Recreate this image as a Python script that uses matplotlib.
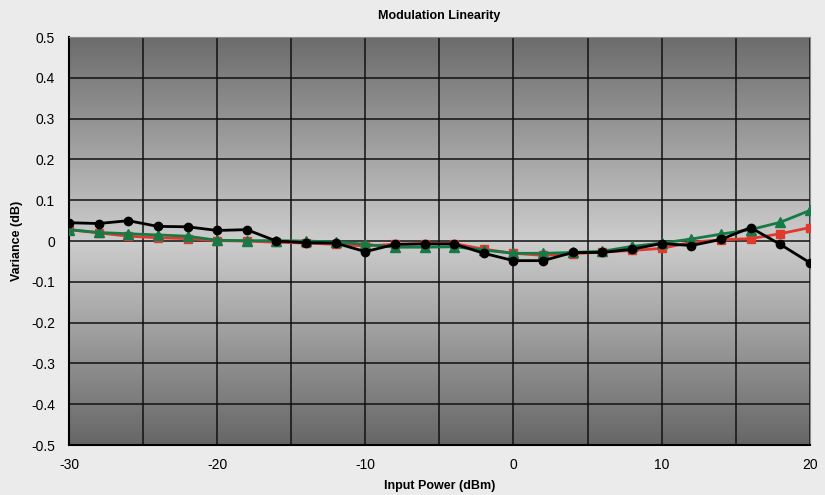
import matplotlib.pyplot as plt
import numpy as np
from matplotlib.colors import LinearSegmentedColormap

plt.rcParams["font.family"] = ["Liberation Sans", "DejaVu Sans"]
plt.rcParams["axes.unicode_minus"] = False

input_power = [-30, -28, -26, -24, -22, -20, -18, -16, -14, -12, -10, -8, -6,
               -4, -2, 0, 2, 4, 6, 8, 10, 12, 14, 16, 18, 20]

var_black = [0.045, 0.043, 0.050, 0.036, 0.035, 0.026, 0.028, 0.000, -0.004, -0.005,
             -0.026, -0.008, -0.007, -0.007, -0.030, -0.048, -0.048, -0.028, -0.028,
             -0.020, -0.006, -0.011, 0.004, 0.033, -0.008, -0.053]
var_red = [0.028, 0.020, 0.012, 0.008, 0.006, 0.001, 0.000, -0.003, -0.005, -0.008,
           -0.012, -0.008, -0.006, -0.006, -0.020, -0.030, -0.035, -0.031, -0.027,
           -0.023, -0.018, -0.003, 0.003, 0.006, 0.018, 0.033]
var_green = [0.028, 0.021, 0.018, 0.015, 0.012, 0.002, 0.001, 0.001, 0.000, -0.002,
             -0.008, -0.015, -0.015, -0.014, -0.022, -0.030, -0.030, -0.028, -0.025,
             -0.013, -0.005, 0.005, 0.017, 0.028, 0.046, 0.075]

fig = plt.figure(figsize=(8.25, 4.95), dpi=100, facecolor="#ebebeb")
ax = fig.add_axes([0.0836, 0.101, 0.898, 0.824])

# vertical grey gradient behind the plot: dark at top/bottom, light near zero
cmap = LinearSegmentedColormap.from_list(
    "bg", [(0, "#666666"), (0.5, "#cdcdcd"), (1, "#6c6c6c")])
grad = np.linspace(0, 1, 256).reshape(-1, 1)
ax.imshow(grad, cmap=cmap, aspect="auto", extent=[-30, 20, -0.5, 0.5],
          origin="lower", zorder=0)

ax.set_xlim(-30, 20)
ax.set_ylim(-0.5, 0.5)

ax.set_xticks(np.arange(-30, 21, 10))
ax.set_xticks(np.arange(-30, 21, 5), minor=True)
ax.set_yticks(np.round(np.arange(-0.5, 0.51, 0.1), 1))
ax.set_yticklabels(["-0.5", "-0.4", "-0.3", "-0.2", "-0.1", "0",
                    "0.1", "0.2", "0.3", "0.4", "0.5"])
ax.grid(True, which="both", color="#111111", linewidth=1.1, zorder=1)
ax.tick_params(axis="both", which="both", length=0, labelsize=10, pad=9)
ax.tick_params(axis="y", pad=10)

ax.plot(input_power, var_red, color="#e03a2e", marker="s", markersize=5.5,
        linewidth=2, zorder=3)
ax.plot(input_power, var_green, color="#157a45", marker="^", markersize=6.5,
        linewidth=2, zorder=4)
ax.plot(input_power, var_black, color="black", marker="o", markersize=6,
        linewidth=2, zorder=5)

for side in ["top", "right"]:
    ax.spines[side].set_color("#8a8a8a")
for side in ["left", "bottom"]:
    ax.spines[side].set_color("black")
    ax.spines[side].set_linewidth(1.5)

ax.set_title("Modulation Linearity", fontsize=9, fontweight="bold", pad=13)
ax.set_xlabel("Input Power (dBm)", fontsize=9, fontweight="bold", labelpad=6)
ax.set_ylabel("Variance (dB)", fontsize=9, fontweight="bold", labelpad=6)

fig.savefig("out.png", dpi=100, facecolor=fig.get_facecolor())
